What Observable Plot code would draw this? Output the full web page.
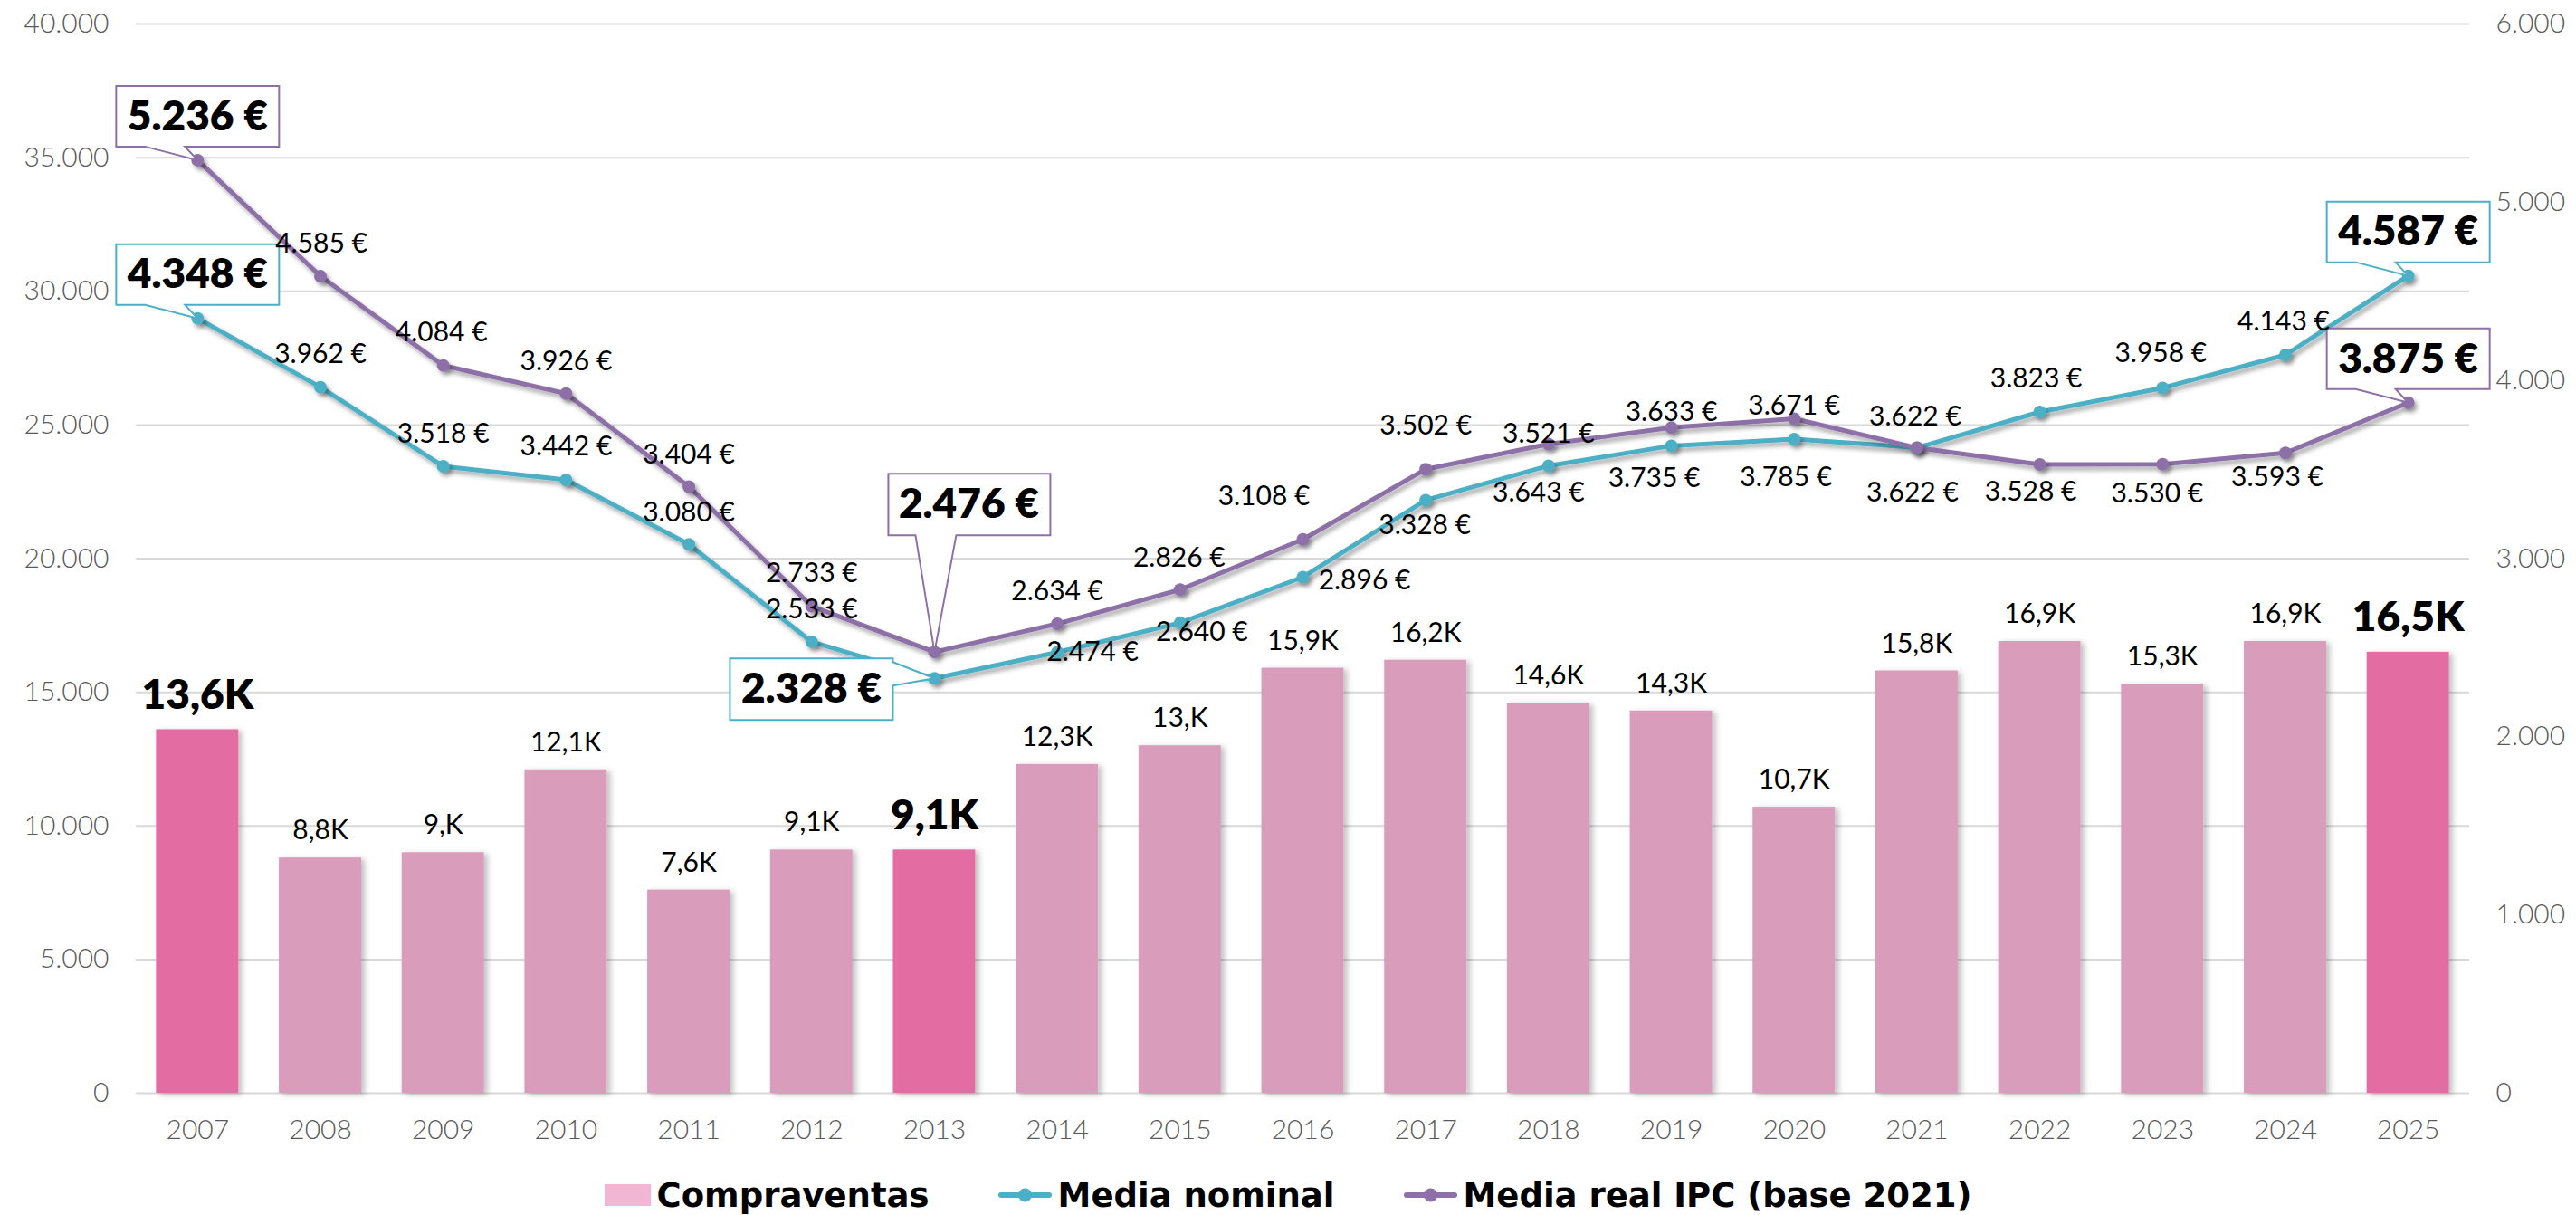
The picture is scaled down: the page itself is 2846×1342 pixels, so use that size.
<!DOCTYPE html>
<html>
<head>
<meta charset="utf-8">
<script src="https://cdn.jsdelivr.net/npm/d3@7"></script>
<script src="https://cdn.jsdelivr.net/npm/@observablehq/plot@0.6"></script>
<style>
  html, body { margin: 0; padding: 0; background: #fff; overflow: hidden; }
  #chart svg { display: block; }
  #legend { display: flex; justify-content: center; align-items: center; height: 44px; padding-top: 8px;
            font-family: "DejaVu Sans", sans-serif; font-weight: bold; font-size: 37px; color: #000; gap: 76px; }
  #legend .item { display: flex; align-items: center; gap: 7px; white-space: nowrap; }
</style>
</head>
<body>
<div id="chart"></div>
<div id="legend"></div>
<script>
// ---------- DATA ----------
const years = [2007, 2008, 2009, 2010, 2011, 2012, 2013, 2014, 2015, 2016, 2017, 2018, 2019, 2020, 2021, 2022, 2023, 2024, 2025];
const compraventas = [13600, 8800, 9000, 12100, 7600, 9100, 9100, 12300, 13000, 15900, 16200, 14600, 14300, 10700, 15800, 16900, 15300, 16900, 16500];
const mediaNominal = [4348, 3962, 3518, 3442, 3080, 2533, 2328, 2474, 2640, 2896, 3328, 3521, 3633, 3671, 3622, 3823, 3958, 4143, 4587];
const mediaReal = [5236, 4585, 4084, 3926, 3404, 2733, 2476, 2634, 2826, 3108, 3502, 3643, 3735, 3785, 3622, 3528, 3530, 3593, 3875];
const highlightYears = [2007, 2013, 2025];
const leftTicks = [0, 5000, 10000, 15000, 20000, 25000, 30000, 35000, 40000];
const rightTicks = [0, 1000, 2000, 3000, 4000, 5000, 6000];
const seriesNames = ["Compraventas", "Media nominal", "Media real IPC (base 2021)"];

// ---------- STYLE ----------
const colors = { barNormal: "#D99CBB", barHighlight: "#E36CA3", legendBar: "#F0B6D3", nominal: "#4BAFC6", real: "#8E70A9", grid: "#D9D9D9", axis: "#595959" };
// label offsets [dx, dy] per year (null = callout)
const nominalLabelOffsets = [null, [0,-36], [0,-36], [0,-37], [0,-35], [0,-36], null, [39,0], [24,11], [68,4], [-1,28], [0,-35], [0,-37], [0,-37], [-2,-34], [-4,-37], [-2,-38], [-2,-37], null];
const realLabelOffsets = [null, [1,-36], [-2,-36], [0,-35], [0,-35], [0,-36], null, [0,-36], [-1,-35], [-43,-47], [0,-48], [-11,54], [-19,56], [-9,65], [-5,50], [-10,30], [-6,33], [-9,27], null];
const calloutShapes = {
  above: { pts: [[-90,-82],[90,-82],[90,-15],[-14,-15],[0,0],[-58,-15],[-90,-15]], text: [0,-48] },
  high:  { pts: [[-51,-197],[128,-197],[128,-129],[24,-129],[0,0],[-21,-129],[-51,-129]], text: [38,-163] },
  left:  { pts: [[-226,-22],[-46,-22],[-46,-18],[0,0],[-46,8],[-46,46],[-226,46]], text: [-136,12] }
};
const callouts = [
  { series: "real", year: 2007, shape: "above" },
  { series: "nominal", year: 2007, shape: "above" },
  { series: "real", year: 2013, shape: "high" },
  { series: "nominal", year: 2013, shape: "left" },
  { series: "nominal", year: 2025, shape: "above" },
  { series: "real", year: 2025, shape: "above" }
];

const leftMax = leftTicks[leftTicks.length - 1];
const rightMax = rightTicks[rightTicks.length - 1];
const RATIO = rightMax / leftMax;

const rows = years.map((year, i) => ({ year, sales: compraventas[i], nominal: mediaNominal[i], real: mediaReal[i] }));
const fmtThousands = v => d3.format(",")(v).replace(/,/g, ".");
const fmtEuro = v => `${fmtThousands(v)} €`;
const fmtK = v => (v / 1000).toFixed(1).replace(".", ",").replace(/,0$/, ",") + "K";
const isHi = d => highlightYears.includes(d.year);

const W = 2846, H = 1290;
const font = "Lato";
const axisW = 300, labelW = 400, heavyW = 800;

function symbolFrom(pts) {
  return { draw(ctx) { ctx.moveTo(pts[0][0], pts[0][1]); for (let k = 1; k < pts.length; ++k) ctx.lineTo(pts[k][0], pts[k][1]); ctx.closePath(); } };
}

const labelMarks = [];
rows.forEach((d, i) => {
  const on = nominalLabelOffsets[i], orr = realLabelOffsets[i];
  if (on) labelMarks.push(Plot.text([d], { x: "year", y: r => r.nominal / RATIO, text: r => fmtEuro(r.nominal), dx: on[0], dy: on[1], lineAnchor: "middle", fontSize: 30, fontWeight: labelW, fill: "#000", fontFamily: font }));
  if (orr) labelMarks.push(Plot.text([d], { x: "year", y: r => r.real / RATIO, text: r => fmtEuro(r.real), dx: orr[0], dy: orr[1], lineAnchor: "middle", fontSize: 30, fontWeight: labelW, fill: "#000", fontFamily: font }));
});

const calloutMarks = [];
callouts.forEach(c => {
  const d = rows.find(r => r.year === c.year);
  const shp = calloutShapes[c.shape];
  const col = colors[c.series];
  calloutMarks.push(Plot.dot([d], { x: "year", y: r => r[c.series] / RATIO, symbol: symbolFrom(shp.pts), r: 10, fill: "white", stroke: col, strokeWidth: 2 }));
  calloutMarks.push(Plot.text([d], { x: "year", y: r => r[c.series] / RATIO, text: r => fmtEuro(r[c.series]), dx: shp.text[0], dy: shp.text[1], lineAnchor: "middle", fontSize: 46, fontWeight: heavyW, fill: "#000", fontFamily: font }));
});

const chart = Plot.plot({
  width: W,
  height: H,
  marginLeft: 150,
  marginRight: 118,
  marginTop: 26,
  marginBottom: 83,
  style: { fontFamily: font, fontSize: "30px", background: "white", overflow: "visible" },
  x: { type: "band", domain: years, paddingInner: 0.33, paddingOuter: 0.165, round: false, label: null },
  y: { domain: [0, leftMax], label: null },
  marks: [
    Plot.gridY(leftTicks, { stroke: colors.grid, strokeOpacity: 1, strokeWidth: 2 }),
    Plot.axisY({ ticks: leftTicks, tickFormat: fmtThousands, tickSize: 0, tickPadding: 30, fontSize: 30, fontWeight: axisW, fill: colors.axis, label: null }),
    Plot.axisY({ anchor: "right", ticks: rightTicks.map(v => v / RATIO), tickFormat: v => fmtThousands(Math.round(v * RATIO)), tickSize: 0, tickPadding: 29, fontSize: 30, fontWeight: axisW, fill: colors.axis, label: null }),
    Plot.axisX({ tickFormat: d => String(d), tickSize: 0, tickPadding: 29, fontSize: 30, fontWeight: axisW, fill: colors.axis, label: null }),
    Plot.barY(rows.filter(d => !isHi(d)), { x: "year", y: "sales", fill: colors.barNormal, className: "bars" }),
    Plot.barY(rows.filter(isHi), { x: "year", y: "sales", fill: colors.barHighlight, className: "bars" }),
    Plot.text(rows.filter(d => !isHi(d)), { x: "year", y: "sales", text: d => fmtK(d.sales), dy: -30, lineAnchor: "middle", fontSize: 30, fontWeight: labelW, fill: "#000", fontFamily: font }),
    Plot.text(rows.filter(isHi), { x: "year", y: "sales", text: d => fmtK(d.sales), dy: -38, lineAnchor: "middle", fontSize: 46, fontWeight: heavyW, fill: "#000", fontFamily: font }),
    Plot.line(rows, { x: "year", y: d => d.nominal / RATIO, stroke: colors.nominal, strokeWidth: 5, className: "series" }),
    Plot.dot(rows, { x: "year", y: d => d.nominal / RATIO, r: 7, fill: colors.nominal, className: "series" }),
    Plot.line(rows, { x: "year", y: d => d.real / RATIO, stroke: colors.real, strokeWidth: 5, className: "series" }),
    Plot.dot(rows, { x: "year", y: d => d.real / RATIO, r: 7, fill: colors.real, className: "series" }),
    ...calloutMarks,
    ...labelMarks
  ]
});

// drop shadows
const ns = "http://www.w3.org/2000/svg";
const defs = document.createElementNS(ns, "defs");
defs.innerHTML = `
  <filter id="shLine" x="-5%" y="-20%" width="110%" height="140%"><feDropShadow dx="3" dy="4" stdDeviation="2.5" flood-color="#000" flood-opacity="0.35"/></filter>
  <filter id="shBar" x="-10%" y="-10%" width="130%" height="120%"><feDropShadow dx="4" dy="2" stdDeviation="3" flood-color="#000" flood-opacity="0.25"/></filter>`;
chart.insertBefore(defs, chart.firstChild);
chart.querySelectorAll(".series").forEach(g => g.setAttribute("filter", "url(#shLine)"));
chart.querySelectorAll(".bars").forEach(g => g.setAttribute("filter", "url(#shBar)"));

document.getElementById("chart").appendChild(chart);

// legend
const legend = document.getElementById("legend");
const legendSwatches = [
  `<span style="display:inline-block;width:51px;height:24px;background:${colors.legendBar}"></span>`,
  `<svg width="59" height="18"><line x1="3" x2="56" y1="9" y2="9" stroke="${colors.nominal}" stroke-width="6" stroke-linecap="round"/><circle cx="29.5" cy="9" r="7.5" fill="${colors.nominal}"/></svg>`,
  `<svg width="59" height="18"><line x1="3" x2="56" y1="9" y2="9" stroke="${colors.real}" stroke-width="6" stroke-linecap="round"/><circle cx="29.5" cy="9" r="7.5" fill="${colors.real}"/></svg>`
];
seriesNames.forEach((name, i) => {
  const item = document.createElement("span");
  item.className = "item";
  item.innerHTML = legendSwatches[i] + `<span>${name}</span>`;
  legend.appendChild(item);
});
</script>
</body>
</html>
